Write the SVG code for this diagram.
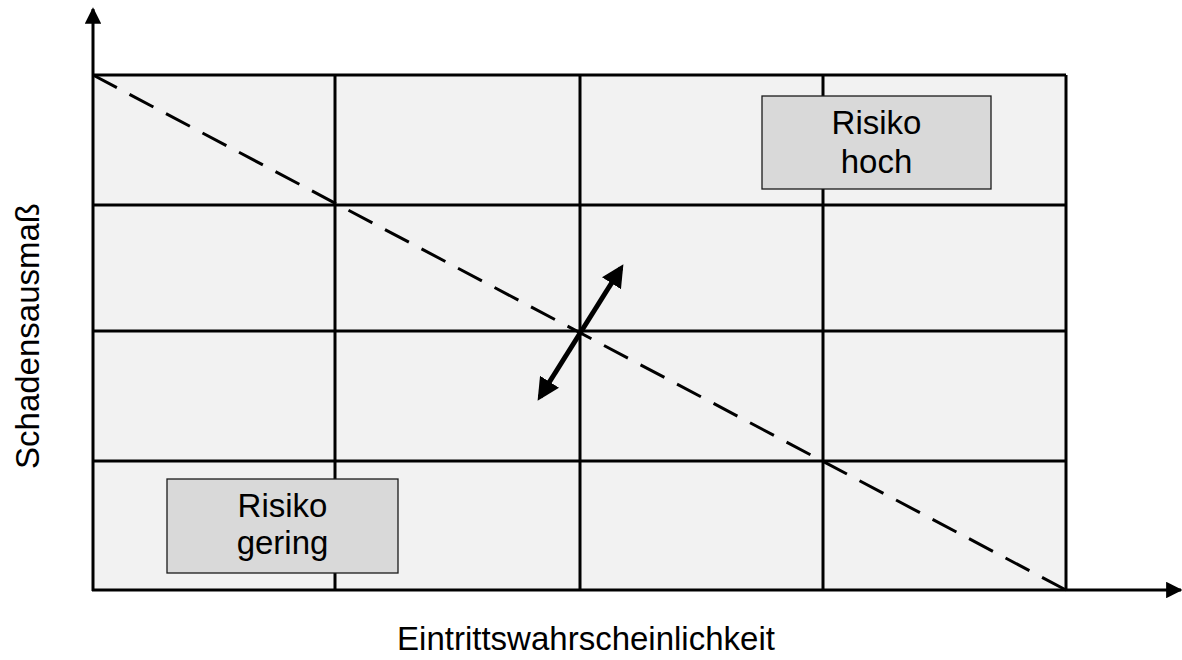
<svg xmlns="http://www.w3.org/2000/svg" width="1182" height="660" viewBox="0 0 1182 660">
  <style>
    .grid { stroke: #000; stroke-width: 3; fill: none; }
    .axis { stroke: #000; stroke-width: 3; fill: none; }
    .box { fill: #d9d9d9; stroke: #1a1a1a; stroke-width: 1.3; }
    .lbl { font-family: "Liberation Sans", Arial, sans-serif; font-size: 33px; fill: #000; text-anchor: middle; }
  </style>
  <defs>
    <marker id="axisHead" viewBox="0 0 10 10" refX="9" refY="5" markerWidth="5.5" markerHeight="5.5" markerUnits="strokeWidth" orient="auto">
      <path d="M0,0 L10,5 L0,10 z" fill="#000"/>
    </marker>
    <marker id="dblHead" viewBox="0 0 10 10" refX="8" refY="5" markerWidth="4.5" markerHeight="4.5" markerUnits="strokeWidth" orient="auto-start-reverse">
      <path d="M0,0 L10,5 L0,10 z" fill="#000"/>
    </marker>
  </defs>

  <!-- matrix background -->
  <rect x="93" y="75" width="973" height="515" fill="#f2f2f2"/>

  <g id="connectors">
    <!-- grid lines -->
    <path class="grid" d="M93,75 H1066 M93,205 H1066 M93,331 H1066 M93,461 H1066 M335,75 V590 M580,75 V590 M823,75 V590 M1066,75 V590"/>
    <!-- axes -->
    <line class="axis" x1="93" y1="591" x2="93" y2="9" marker-end="url(#axisHead)"/>
    <line class="axis" x1="92" y1="590" x2="1181" y2="590" marker-end="url(#axisHead)"/>
    <!-- risk threshold: dash period chosen so the line ends on a dash -->
    <line x1="93" y1="75" x2="1066" y2="590" stroke="#000" stroke-width="3" stroke-dasharray="27,14.3"/>
    <!-- shift arrow -->
    <line x1="540" y1="397" x2="621" y2="268" stroke="#000" stroke-width="5" marker-start="url(#dblHead)" marker-end="url(#dblHead)"/>
  </g>

  <g id="risiko-hoch">
    <rect class="box" x="762" y="96" width="229" height="93"/>
    <text class="lbl" x="876.5" y="134">Risiko</text>
    <text class="lbl" x="876.5" y="173">hoch</text>
  </g>

  <g id="risiko-gering">
    <rect class="box" x="167" y="479" width="231" height="94"/>
    <text class="lbl" x="282.5" y="517">Risiko</text>
    <text class="lbl" x="282.5" y="554">gering</text>
  </g>

  <g id="axis-x-label">
    <text class="lbl" x="586" y="650">Eintrittswahrscheinlichkeit</text>
  </g>
  <g id="axis-y-label">
    <text class="lbl" transform="translate(39,336) rotate(-90)">Schadensausmaß</text>
  </g>
</svg>
